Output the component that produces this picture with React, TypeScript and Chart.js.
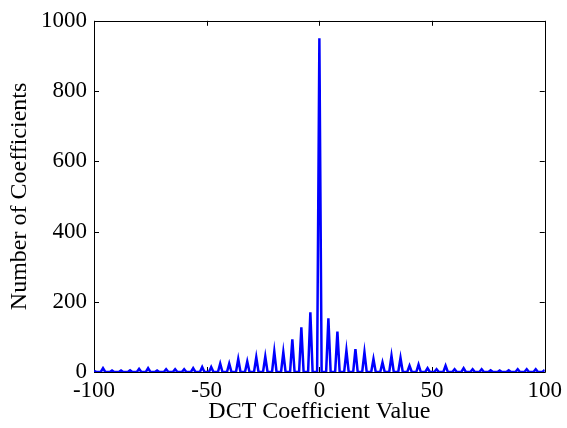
import React, { useEffect, useRef } from "react";
import { Chart, registerables } from "chart.js";

Chart.register(...registerables);

// Histogram of DCT coefficient values, one bin per integer from -100 to 100.
const binStart = -100;
const counts: number[] = [
  3, 0, 0, 0, // -100
  11, 0, 0, 0, // -96
  4, 0, 0, 0, // -92
  4, 0, 0, 0, // -88
  5, 0, 0, 0, // -84
  9, 0, 0, 0, // -80
  11, 0, 0, 0, // -76
  4, 0, 0, 0, // -72
  8, 0, 0, 0, // -68
  8, 0, 0, 0, // -64
  8, 0, 0, 0, // -60
  11, 0, 0, 0, // -56
  14, 0, 0, 0, // -52
  14, 0, 0, 0, // -48
  24, 0, 0, 0, // -44
  24, 0, 0, 0, // -40
  37, 0, 0, 0, // -36
  30, 0, 0, 0, // -32
  42, 0, 0, 0, // -28
  44, 0, 0, 0, // -24
  58, 0, 0, 0, // -20
  56, 0, 0, 0, // -16
  93, 0, 0, 0, // -12
  127, 0, 0, 0, // -8
  170, 0, 0, 0, // -4
  950, 0, 0, 0, // 0
  153, 0, 0, 0, // 4
  115, 0, 0, 0, // 8
  61, 0, 0, 0, // 12
  65, 0, 0, 0, // 16
  56, 0, 0, 0, // 20
  37, 0, 0, 0, // 24
  27, 0, 0, 0, // 28
  46, 0, 0, 0, // 32
  40, 0, 0, 0, // 36
  18, 0, 0, 0, // 40
  21, 0, 0, 0, // 44
  11, 0, 0, 0, // 48
  8, 0, 0, 0, // 52
  18, 0, 0, 0, // 56
  8, 0, 0, 0, // 60
  11, 0, 0, 0, // 64
  8, 0, 0, 0, // 68
  8, 0, 0, 0, // 72
  5, 0, 0, 0, // 76
  4, 0, 0, 0, // 80
  5, 0, 0, 0, // 84
  8, 0, 0, 0, // 88
  8, 0, 0, 0, // 92
  8, 0, 0, 0, // 96
  6, // 100
];

const xTicks = [-100, -50, 0, 50, 100];
const yTicks = [0, 200, 400, 600, 800, 1000];
const xTitle = "DCT Coefficient Value";
const yTitle = "Number of Coefficients";

const FONT = "'Liberation Serif', 'Times New Roman', serif";

const framePlugin = {
  id: "matlabFrame",
  beforeDatasetsDraw(chart: any) {
    const { ctx, chartArea } = chart;
    const { left, right, top, bottom } = chartArea;
    const xs = chart.scales.x;
    const ys = chart.scales.y;
    const tl = 5;
    ctx.save();
    ctx.strokeStyle = "#000";
    ctx.lineWidth = 1;
    ctx.beginPath();
    ctx.rect(Math.round(left) + 0.5, Math.round(top) + 0.5, Math.round(right - left), Math.round(bottom - top));
    for (const v of xTicks) {
      const px = Math.round(xs.getPixelForValue(v)) + 0.5;
      ctx.moveTo(px, bottom);
      ctx.lineTo(px, bottom - tl);
      ctx.moveTo(px, top);
      ctx.lineTo(px, top + tl);
    }
    for (const v of yTicks) {
      const py = Math.round(ys.getPixelForValue(v)) + 0.5;
      ctx.moveTo(left, py);
      ctx.lineTo(left + tl, py);
      ctx.moveTo(right, py);
      ctx.lineTo(right - tl, py);
    }
    ctx.stroke();
    ctx.restore();
  },
};

export default function App() {
  const ref = useRef<HTMLCanvasElement | null>(null);

  useEffect(() => {
    if (!ref.current) return;
    const points = counts.map((c, i) => ({ x: binStart + i, y: c }));
    const chart = new Chart(ref.current, {
      type: "line",
      data: {
        datasets: [
          {
            data: points,
            borderColor: "#0000ff",
            borderWidth: 2.5,
            pointRadius: 0,
            tension: 0,
            fill: false,
          },
        ],
      },
      options: {
        animation: false,
        responsive: true,
        maintainAspectRatio: false,
        layout: { padding: { top: 19, right: 21, left: 0, bottom: 0 } },
        plugins: {
          legend: { display: false },
          tooltip: { enabled: false },
        },
        scales: {
          x: {
            type: "linear",
            min: -100,
            max: 100,
            afterBuildTicks: (s: any) => {
              s.ticks = xTicks.map((v) => ({ value: v }));
            },
            afterFit: (s: any) => {
              s.height = 56;
            },
            grid: { display: false, drawTicks: false },
            border: { display: false },
            ticks: {
              color: "#000",
              padding: 5,
              maxRotation: 0,
              font: { family: FONT, size: 23 },
              callback: (v: any) => String(v),
            },
            title: {
              display: true,
              text: xTitle,
              color: "#000",
              font: { family: FONT, size: 24 },
              padding: { top: 0, bottom: 2 },
            },
          },
          y: {
            type: "linear",
            min: 0,
            max: 1000,
            afterBuildTicks: (s: any) => {
              s.ticks = yTicks.map((v) => ({ value: v }));
            },
            afterFit: (s: any) => {
              s.width = 94;
            },
            grid: { display: false, drawTicks: false },
            border: { display: false },
            ticks: {
              color: "#000",
              padding: 7,
              font: { family: FONT, size: 23 },
              callback: (v: any) => String(v),
            },
            title: {
              display: true,
              text: yTitle,
              color: "#000",
              font: { family: FONT, size: 24 },
              padding: { top: 5, bottom: 0 },
            },
          },
        },
      },
      plugins: [framePlugin],
    });
    return () => chart.destroy();
  }, []);

  return (
    <div style={{ position: "absolute", left: 0, top: 0, width: 567, height: 428, background: "#fff" }}>
      <canvas ref={ref} />
    </div>
  );
}
